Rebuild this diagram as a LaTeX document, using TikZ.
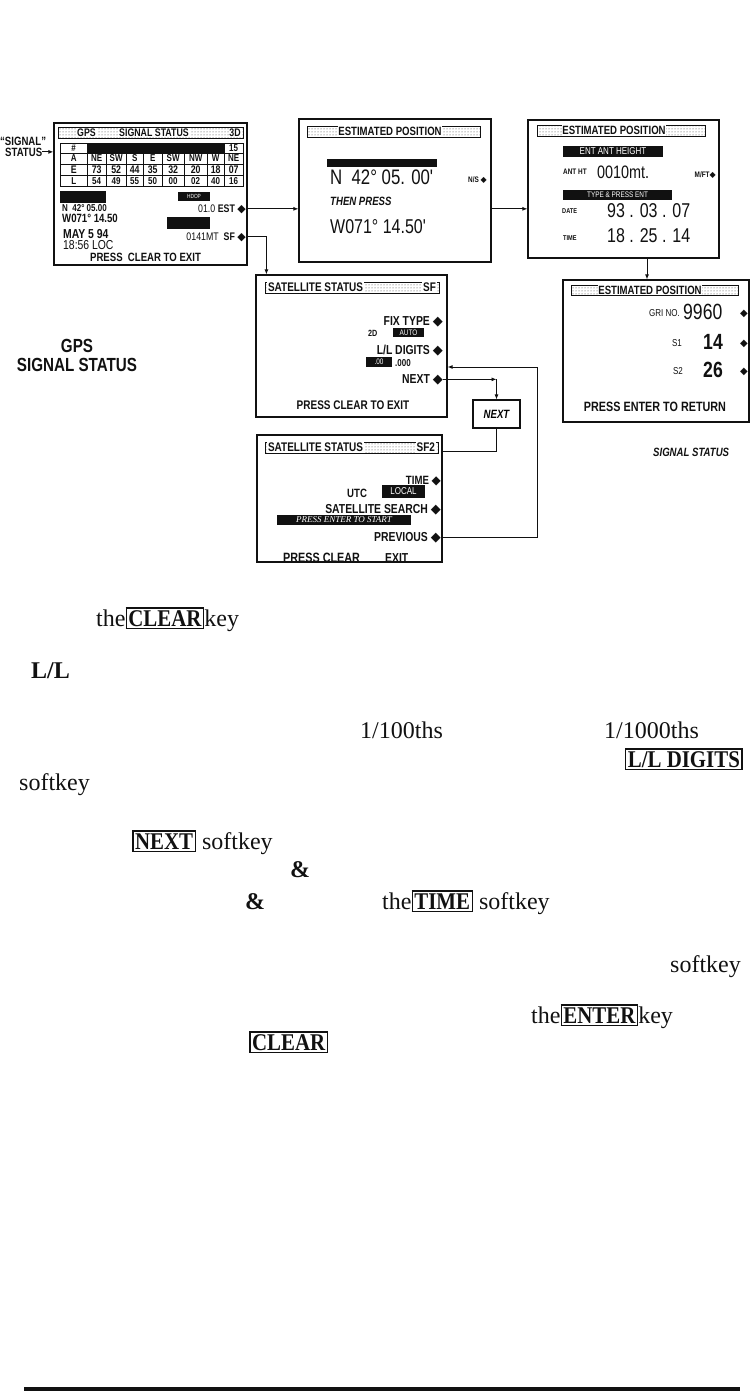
\documentclass[tikz,border=0pt]{standalone}
\usepackage{fontspec}
\setmainfont{Liberation Serif}
\newfontfamily\screenfont[FakeStretch=0.8]{Liberation Sans}
\newfontfamily\keyfont[FakeStretch=0.87]{Liberation Serif}
\newfontfamily\symbolfont{DejaVu Sans}
\usepackage{tikz}
\usetikzlibrary{arrows.meta,positioning,patterns}
\definecolor{ScanInk}{HTML}{111111}
\definecolor{DotGray}{HTML}{3A3A3A}
\newcommand{\scrsize}[1]{\fontsize{#1}{#1}\selectfont}
\newcommand{\softmark}{{\symbolfont ◆}}
\newcommand{\keycap}[1]{{\setlength{\fboxsep}{1.5pt}\setlength{\fboxrule}{1.4pt}\fbox{\keyfont\bfseries #1}}}
\newcommand{\cellbox}[2]{\makebox[#1pt]{#2}}
\tikzset{
  screen/.style={draw=ScanInk, line width=1.2pt, fill=white, inner sep=0pt},
  titlebar/.style={draw=ScanInk, line width=0.5pt, pattern=dots, pattern color=DotGray, inner sep=0pt},
  titletext/.style={fill=white, inner sep=0.8pt, text=ScanInk, font=\screenfont\bfseries\scrsize{#1}},
  blackbar/.style={fill=ScanInk, text=white, inner sep=0pt, font=\screenfont\scrsize{#1}},
  blackbar/.default=7,
  scrtext/.style={inner sep=0pt, text=ScanInk, font=\screenfont\bfseries\scrsize{#1}},
  segtext/.style={inner sep=0pt, text=ScanInk, font=\screenfont\scrsize{#1}},
  bodytext/.style={inner sep=0pt, anchor=base west, text=ScanInk, font=\scrsize{24}},
  link/.style={draw=ScanInk, line width=0.9pt, -{Latex[length=5pt,width=4pt]}},
  wire/.style={draw=ScanInk, line width=0.9pt}
}

\begin{document}
\begin{tikzpicture}[x=1pt,y=-1pt]
  \useasboundingbox (0,0) rectangle (753,1392);

  \node[
    screen,
    minimum width=193,
    minimum height=142
  ] (gps) at (150.5,194) {};

  \node[
    screen,
    minimum width=192,
    minimum height=143
  ] (estA) at (395,190.5) {};

  \node[
    screen,
    minimum width=191,
    minimum height=138
  ] (estB) at (623.5,189) {};

  \node[
    screen,
    minimum width=186,
    minimum height=142
  ] (estC) at (656,351) {};

  \node[
    screen,
    minimum width=191,
    minimum height=142
  ] (satA) at (351.5,346) {};

  \node[
    screen,
    minimum width=185,
    minimum height=127
  ] (satB) at (349.5,498.5) {};

  \node[
    screen,
    minimum width=47,
    minimum height=28,
    font=\screenfont\bfseries\itshape\scrsize{12}
  ] (nextkey) at (496.5,414) {NEXT};

  % GPS signal status screen
  \node[titlebar, minimum width=185, minimum height=11] (gpsbar) at (150.5,132.5) {};
  \node[titletext=11] (gpsttlA) at (86.5,132.5) {GPS};
  \node[titletext=11] (gpsttlB) at (154,132.5) {SIGNAL STATUS};
  \node[titletext=11] (gpsttlC) at (235,132.5) {3D};
  \fill[ScanInk] (87,143) rectangle (224,153);
  \draw[ScanInk, line width=0.8pt] (60,143) rectangle (243,186)
    (60,153) -- (243,153) (60,164) -- (243,164) (60,175) -- (243,175)
    (87,143) -- (87,186) (224,143) -- (224,186)
    (106,153) -- (106,186) (126,153) -- (126,186) (143,153) -- (143,186)
    (162,153) -- (162,186) (184,153) -- (184,186) (207,153) -- (207,186);
  \node[scrtext=10] (gpshash) at (73.5,148) {\#};
  \node[scrtext=10] (gpscount) at (233.5,148) {15};
  \node[scrtext=10, anchor=west] (gpsazim) at (60,158.5) {\cellbox{27}{A}\cellbox{19}{NE}\cellbox{20}{SW}\cellbox{17}{S}\cellbox{19}{E}\cellbox{22}{SW}\cellbox{23}{NW}\cellbox{17}{W}\cellbox{19}{NE}};
  \node[scrtext=11, anchor=west] (gpselev) at (60,169.5) {\cellbox{27}{E}\cellbox{19}{73}\cellbox{20}{52}\cellbox{17}{44}\cellbox{19}{35}\cellbox{22}{32}\cellbox{23}{20}\cellbox{17}{18}\cellbox{19}{07}};
  \node[scrtext=10, anchor=west] (gpslevel) at (60,181) {\cellbox{27}{L}\cellbox{19}{54}\cellbox{20}{49}\cellbox{17}{55}\cellbox{19}{50}\cellbox{22}{00}\cellbox{23}{02}\cellbox{17}{40}\cellbox{19}{16}};
  \node[blackbar, minimum width=46, minimum height=12] (gpspos) at (83,197) {};
  \node[scrtext=10, anchor=base west] (gpslat) at (62,211) {N\ \ 42° 05.00};
  \node[scrtext=12, anchor=base west] (gpslon) at (62,222) {W071° 14.50};
  \node[scrtext=13, anchor=base west] (gpsdate) at (63,238) {MAY 5 94};
  \node[segtext=13, anchor=base west] (gpsclock) at (63,249) {18:56 LOC};
  \node[blackbar=6, minimum width=32, minimum height=9] (gpshdop) at (194,196.5) {HDOP};
  \node[scrtext=11, anchor=base east] (gpsest) at (246,212) {\textmd{01.0} EST \softmark};
  \node[blackbar, minimum width=43, minimum height=12] (gpsalt) at (188.5,223) {};
  \node[scrtext=11, anchor=base east] (gpssf) at (246,240) {\textmd{0141MT}\ \ SF \softmark};
  \node[scrtext=12] (gpsexit) at (145.5,257) {PRESS\ \ CLEAR TO EXIT};

  % first estimated position screen
  \node[titlebar, minimum width=173, minimum height=11] (estAbar) at (393.5,131.5) {};
  \node[titletext=12] (estAttl) at (390,131.5) {ESTIMATED POSITION};
  \node[blackbar, minimum width=110, minimum height=8] (estAprompt) at (382,163) {};
  \node[segtext=21, anchor=base west] (estAlat) at (330,184) {N\ \ 42° 05. 00'};
  \node[scrtext=8, anchor=base east] (estAns) at (487,182) {N/S \softmark};
  \node[scrtext=12, anchor=base west] (estAthen) at (330,205) {\itshape THEN PRESS};
  \node[segtext=20, anchor=base west] (estAlon) at (330,233) {W071° 14.50'};

  % second estimated position screen
  \node[titlebar, minimum width=168, minimum height=11] (estBbar) at (621,130.5) {};
  \node[titletext=12] (estBttl) at (614,130.5) {ESTIMATED POSITION};
  \node[blackbar=10, minimum width=100, minimum height=11] (estBant) at (613,151.5) {ENT ANT HEIGHT};
  \node[scrtext=8, anchor=base west] (estBhtlbl) at (563,174) {ANT HT};
  \node[segtext=18, anchor=base west] (estBht) at (597,178) {0010mt.};
  \node[scrtext=8, anchor=base east] (estBmft) at (716,177) {M/FT\softmark};
  \node[blackbar=8, minimum width=109, minimum height=10] (estBtype) at (617.5,194.5) {TYPE \& PRESS ENT};
  \node[scrtext=7, anchor=base west] (estBdatelbl) at (562,213) {DATE};
  \node[segtext=20, anchor=base west] (estBdate) at (607,217) {93 . 03 . 07};
  \node[scrtext=7, anchor=base west] (estBtimelbl) at (563,240) {TIME};
  \node[segtext=20, anchor=base west] (estBtime) at (607,242) {18 . 25 . 14};

  % third estimated position screen
  \node[titlebar, minimum width=167, minimum height=10] (estCbar) at (654.5,290) {};
  \node[titletext=12] (estCttl) at (650,290) {ESTIMATED POSITION};
  \node[segtext=10, anchor=base east] (estCgrilbl) at (680,316) {GRI NO.};
  \node[segtext=22, anchor=base west] (estCgri) at (683,319) {9960};
  \node[scrtext=10, anchor=base east] (estCgrimark) at (748,316) {\softmark};
  \node[segtext=10, anchor=base east] (estConelbl) at (682,346) {S1};
  \node[scrtext=22, anchor=base east] (estCone) at (723,349) {14};
  \node[scrtext=10, anchor=base east] (estConemark) at (748,346) {\softmark};
  \node[segtext=10, anchor=base east] (estCtwolbl) at (683,374) {S2};
  \node[scrtext=22, anchor=base east] (estCtwo) at (723,377) {26};
  \node[scrtext=10, anchor=base east] (estCtwomark) at (748,374) {\softmark};
  \node[scrtext=13.5] (estCexit) at (655,407) {PRESS ENTER TO RETURN};
  \node[scrtext=12, anchor=base west] (sigtag) at (653,456) {\itshape SIGNAL STATUS};

  % satellite status screens
  \node[titlebar, minimum width=174, minimum height=11] (satAbar) at (352,287.5) {};
  \node[titletext=12.5, anchor=west] (satAttl) at (267,287.5) {SATELLITE\ STATUS};
  \node[titletext=12.5, anchor=east] (satAsf) at (437,287.5) {SF};
  \node[scrtext=13, anchor=base east] (satfix) at (443,325) {FIX TYPE \softmark};
  \node[scrtext=9, anchor=base west] (sattwod) at (368,336) {2D};
  \node[blackbar=8, minimum width=31, minimum height=9] (satauto) at (408.5,332.5) {AUTO};
  \node[scrtext=13, anchor=base east] (satdigits) at (443,354) {L/L DIGITS \softmark};
  \node[blackbar=8, minimum width=26, minimum height=10] (satdot) at (379,362) {.00};
  \node[scrtext=10, anchor=base west] (satthou) at (395,366) {.000};
  \node[scrtext=13, anchor=base east] (satnext) at (443,383) {NEXT \softmark};
  \node[scrtext=12.5] (satexit) at (353,405) {PRESS CLEAR TO EXIT};

  \node[titlebar, minimum width=173, minimum height=11] (satBbar) at (351.5,447.5) {};
  \node[titletext=12.5, anchor=west] (satBttl) at (267,447.5) {SATELLITE\ STATUS};
  \node[titletext=12.5, anchor=east] (satBsf) at (436,447.5) {SF2};
  \node[scrtext=12, anchor=base east] (sattime) at (441,484) {TIME \softmark};
  \node[scrtext=12, anchor=base west] (satutc) at (347,497) {UTC};
  \node[blackbar=10, minimum width=43, minimum height=13] (satlocal) at (403.5,491.5) {LOCAL};
  \node[scrtext=13, anchor=base east] (satsearch) at (441,513) {SATELLITE SEARCH \softmark};
  \node[blackbar, minimum width=134, minimum height=10, font=\itshape\scrsize{9}] (satstart) at (344,520) {PRESS ENTER TO START};
  \node[scrtext=13, anchor=base east] (satprev) at (441,541) {PREVIOUS \softmark};
  \node[scrtext=13.5, anchor=base west] (satclear) at (283,562) {PRESS CLEAR};
  \node[scrtext=13, anchor=base west] (satexitB) at (385,562) {EXIT};

  % side labels
  \node[scrtext=12, anchor=base west] (sigquote) at (0,145) {“SIGNAL”};
  \node[scrtext=12, anchor=base west] (sigstatus) at (5,156) {STATUS};
  \node[scrtext=19, align=center] (sigcaption) at (77,355) {GPS\\SIGNAL STATUS};

  \draw[link] (sigstatus.east) -- (gps.west |- sigstatus.east);
  \draw[link] (gpsest.east) -- (estA.west |- gpsest.east);
  \draw[link] (estA.east |- gpsest.east) -- (estB.west |- gpsest.east);
  \draw[link] ([xshift=-9pt]estC.north |- estB.south) -- ([xshift=-9pt]estC.north);
  \draw[link] (gpssf.east) -| ([xshift=11pt]satA.north west);
  \draw[link] (satnext.east) -- (nextkey.north |- satnext.east);
  \draw[link] (nextkey.north |- satnext.east) -- (nextkey.north);
  \draw[wire] (nextkey.south) |- ([yshift=-17pt]satB.north east);
  \draw[link] (satprev.east) -| ([xshift=90pt,yshift=-21pt]satA.east) -- ([yshift=-21pt]satA.east);

  % running text
  \node[bodytext] (bodyclear) at (96,626) {the\keycap{CLEAR}key};
  \node[bodytext, font=\bfseries\scrsize{24}] (bodyll) at (31,678) {L/L};
  \node[bodytext] (bodyhundred) at (360,738) {1/100ths};
  \node[bodytext] (bodythousand) at (604,738) {1/1000ths};
  \node[bodytext, anchor=base east] (bodydigits) at (743,767) {\keycap{L/L DIGITS}};
  \node[bodytext] (bodysoftA) at (19,790) {softkey};
  \node[bodytext] (bodynext) at (132,849) {\keycap{NEXT} softkey};
  \node[bodytext] (bodyampA) at (290,877) {\textbf{\&}};
  \node[bodytext] (bodyampB) at (245,909) {\textbf{\&}};
  \node[bodytext] (bodytime) at (382,909) {the\keycap{TIME} softkey};
  \node[bodytext] (bodysoftB) at (670,972) {softkey};
  \node[bodytext] (bodyenter) at (531,1023) {the\keycap{ENTER}key};
  \node[bodytext] (bodyclearB) at (249,1050) {\keycap{CLEAR}};

  \draw[ScanInk, line width=4.5pt] (24,1389) -- (740,1389);

\end{tikzpicture}
\end{document}
